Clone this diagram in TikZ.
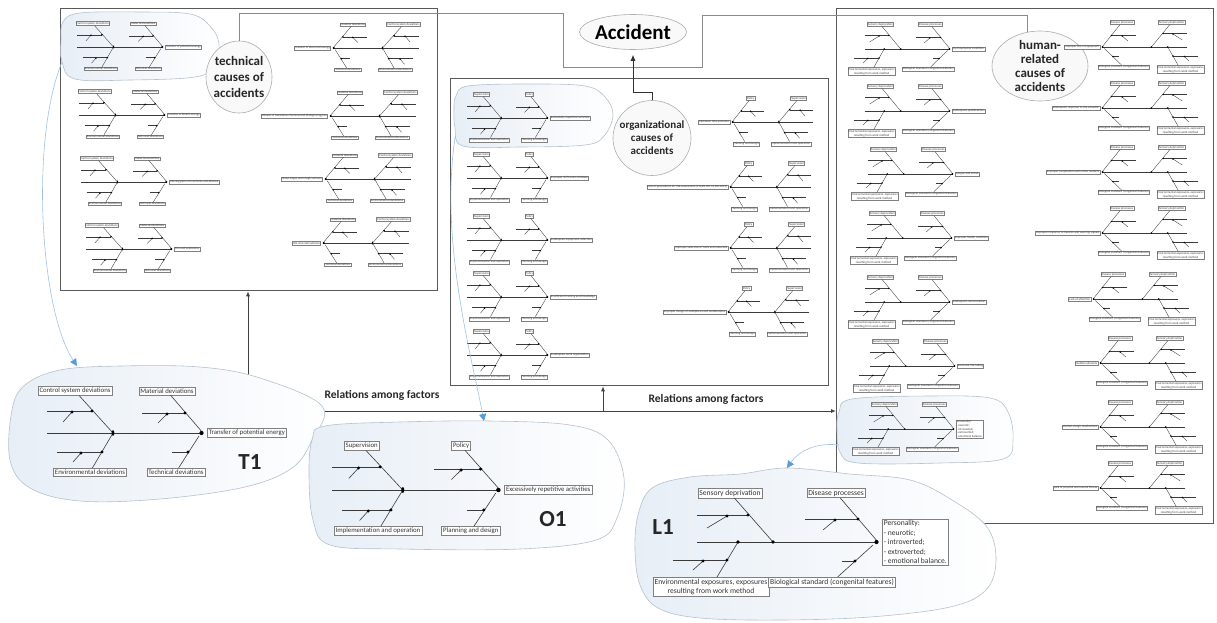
\documentclass[tikz,border=0pt]{standalone}
\usepackage{fontspec}
\setmainfont{Carlito}
\usetikzlibrary{arrows.meta,calc,shapes.geometric}
\newcounter{fc}
\definecolor{panelc}{HTML}{595959}
\definecolor{linec}{HTML}{8A8A8A}
\definecolor{blobl}{HTML}{B4C1CE}
\definecolor{blobf}{HTML}{E7EEF6}
\definecolor{bluel}{HTML}{9DC3E6}
\definecolor{bluea}{HTML}{5B9BD5}
\definecolor{bonec}{HTML}{3A3A3A}
\definecolor{labc}{HTML}{808080}
\tikzset{
 smalllab/.style={draw=labc,line width=0.35pt,fill=white,inner sep=0.7pt,font=\fontsize{3.1}{3.7}\selectfont,text=black!75},
 biglab/.style={draw=labc,line width=0.5pt,fill=white,inner sep=1.5pt,font=\fontsize{6.8}{8.2}\selectfont,text=black!80},
 lab/.style={smalllab},
 bone/.style={draw=bonec,line width=0.35pt},
 sm/.style={lab/.style={smalllab},bone/.style={draw=bonec,line width=0.35pt}},
 panel/.style={draw=panelc,line width=1.3pt,fill=white,anchor=north west,inner sep=0pt},
 blob/.style={draw=blobl,line width=0.6pt,left color=blobf,right color=white},
 circ/.style={ellipse,draw=gray!65,line width=0.6pt,fill=gray!5,inner sep=0pt},
 ctext/.style={font=\bfseries,align=center,text=black!85},
 conn/.style={draw=linec,line width=0.7pt},
 rel/.style={draw=black!75,line width=0.9pt,-{Latex[length=5pt,width=4pt]}},
 bluec/.style={draw=bluel,line width=0.6pt,-{Triangle[length=7pt,width=7pt,color=bluea]}},
 tag/.style={font=\fontsize{23}{26}\selectfont\bfseries,text=black!85},
 reltext/.style={font=\fontsize{11.5}{13}\selectfont\bfseries,text=black!85}
}
% technical / organizational fishbone (head at origin, spine to the left)
\newcommand{\fishT}[9]{%
\stepcounter{fc}%
\begin{scope}[shift={#1},#2]
 \coordinate (f\thefc j) at (-90,0);
 \coordinate (f\thefc h) at (0,0);
 \coordinate (f\thefc e) at (-4,3);
 \draw[bone] (-156,0) -- (f\thefc h);
 \node[lab,anchor=#3,#9] (f\thefc hd) at (4,0) {#4};
 \node[lab] (f\thefc tl) at (-128,-42) {#5};
 \node[lab] (f\thefc tr) at (-36,-42) {#6};
 \node[lab] (f\thefc bl) at (-113,39) {#7};
 \node[lab] (f\thefc br) at (-27,39) {#8};
 \draw[bone] (f\thefc tl) -- (f\thefc j);
 \draw[bone] (f\thefc tr) -- (f\thefc h);
 \draw[bone] (f\thefc bl) -- (f\thefc j);
 \draw[bone] (f\thefc br) -- (f\thefc e);
 \draw[bone] (-156,-22) -- (-111,-22);
 \draw[bone] (-140,-11) -- (-131,-21);
 \draw[bone] (-61,-20) -- (-18,-20);
 \draw[bone] (-45,-10) -- (-36,-19);
 \draw[bone] (-146,19) -- (-101,19);
 \draw[bone] (-130,29) -- (-122,20);
 \draw[bone] (-31,19) -- (-15,19);
 \foreach \x/\y in {-111/-22,-131/-21,-18/-20,-36/-19,-101/19,-122/20,-15/19}
   \fill[black] (\x,\y) circle[radius=1.6];
 \fill[black] (f\thefc j) ellipse[x radius=1.4,y radius=2.8];
 \fill[black] (-1.5,0) circle[radius=2.1];
\end{scope}}
% human-related fishbone
\newcommand{\fishH}[9]{%
\stepcounter{fc}%
\begin{scope}[shift={#1},#2]
 \coordinate (f\thefc j) at (-105,0);
 \coordinate (f\thefc k) at (-140,0);
 \coordinate (f\thefc h) at (0,0);
 \coordinate (f\thefc e) at (-5,3);
 \draw[bone] (-181,0) -- (f\thefc h);
 \node[lab,anchor=#3,#9] (f\thefc hd) at (4,0) {#4};
 \node[lab] (f\thefc tl) at (-148,-49) {#5};
 \node[lab] (f\thefc tr) at (-42,-49) {#6};
 \node[lab,align=center] (f\thefc bl) at (-167,45) {#7};
 \node[lab] (f\thefc br) at (-46,40) {#8};
 \draw[bone] (f\thefc tl) -- (f\thefc j);
 \draw[bone] (f\thefc tr) -- (f\thefc h);
 \draw[bone] (f\thefc bl) -- (f\thefc k);
 \draw[bone] (f\thefc br) -- (f\thefc e);
 \draw[bone] (-181,-27) -- (-130,-27);
 \draw[bone] (-171,-14) -- (-151,-26);
 \draw[bone] (-73,-23) -- (-20,-23);
 \draw[bone] (-55,-12) -- (-43,-22);
 \draw[bone] (-205,18) -- (-151,18);
 \draw[bone] (-185,28) -- (-175,19);
 \draw[bone] (-36,19) -- (-23,19);
 \foreach \x/\y in {-130/-27,-151/-26,-20/-23,-43/-22,-151/18,-175/19,-23/19}
   \fill[black] (\x,\y) circle[radius=1.6];
 \fill[black] (f\thefc j) circle[radius=1.8];
 \fill[black] (f\thefc k) circle[radius=1.8];
 \fill[black] (-1.5,0) circle[radius=2.1];
\end{scope}}

\begin{document}
\begin{tikzpicture}[x=1pt,y=-1pt]
\useasboundingbox (0,0) rectangle (1217,622);

% ---------- panels ----------
\node[panel,minimum width=377,minimum height=282] (tech) at (60,8) {};
\node[panel,minimum width=378,minimum height=307] (org) at (450,78) {};
\node[panel,minimum width=377,minimum height=515] (hum) at (836,8) {};

% highlight blobs inside panels
\draw[blob] plot[smooth cycle,tension=0.6] coordinates {(63,22) (80,13) (140,12) (190,14) (210,26) (219,44) (214,66) (195,77) (130,80) (75,79) (62,62) (61,40)};
\draw[blob] plot[smooth cycle,tension=0.6] coordinates {(456,96) (468,86) (530,84) (585,86) (605,97) (613,115) (604,136) (585,145) (520,147) (463,146) (455,128) (454,108)};
\draw[blob] plot[smooth cycle,tension=0.6] coordinates {(839,412) (852,399) (930,396) (990,398) (1008,412) (1013,440) (1003,459) (940,463) (858,463) (840,452) (837,430)};

% circles and accident
\node[circ,minimum width=66,minimum height=72] (tc) at (239,77) {};
\node[ctext,font=\fontsize{13}{16}\selectfont\bfseries] (tct) at (tc) {technical\\causes of\\accidents};
\node[circ,minimum width=78,minimum height=75] (oc) at (652,138) {};
\node[ctext,font=\fontsize{11}{13}\selectfont\bfseries] (oct) at (oc) {organizational\\causes of\\accidents};
\node[circ,minimum width=96,minimum height=70] (hc) at (1040,66) {};
\node[ctext,font=\fontsize{13}{14}\selectfont\bfseries] (hct) at (hc) {human-\\related\\causes of\\accidents};
\node[circ,minimum width=102,minimum height=35,font=\fontsize{21}{24}\selectfont\bfseries] (acc) at (633,32) {Accident};

\coordinate (c1) at (563,13);
\coordinate (c2) at (563,67);
\coordinate (c3) at (702,67);
\coordinate (c4) at (702,15);
\draw[conn] (tc.north) |- (c1) -- (c2) -- (c3) -- (c4) -| (hc.110);
\coordinate (ob) at (633,92);
\draw[conn,draw=black!80,-{Latex[length=6pt,width=5pt]},shorten >=5pt] (oc.north) |- (ob) -- (acc.south);

% ---------- relations among factors ----------
\coordinate (rl) at (248,411);
\coordinate (rm) at (603,411);
\draw[rel] (rl) -- (rl |- tech.south);
\draw[rel] (rl) -- (rl -| hum.west);
\draw[rel] (rm) -- (rm |- org.south);
\node[reltext] (rt1) at (382,395) {Relations among factors};
\node[reltext] (rt2) at (706,399) {Relations among factors};

% ---------- technical panel ----------
\fishT{(163,47)}{sm,xscale=.55,yscale=.56}{west}{Transfer of potential energy}{Control system deviations}{Material deviations}{Environmental deviations}{Technical deviations}{}
\fishT{(165,115)}{sm,xscale=.55,yscale=.56}{west}{Transfer of kinetic energy}{Control system deviations}{Material deviations}{Environmental deviations}{Technical deviations}{}
\fishT{(167,182)}{sm,xscale=.55,yscale=.56}{west}{Moving parts of machines and devices}{Control system deviations}{Material deviations}{Environmental deviations}{Technical deviations}{}
\fishT{(172,249)}{sm,xscale=.55,yscale=.56}{west}{Fire and explosions}{Control system deviations}{Material deviations}{Environmental deviations}{Technical deviations}{}
\fishT{(333,48)}{sm,xscale=-.55,yscale=.56}{east}{Transfer of electrical energy}{Control system deviations}{Material deviations}{Environmental deviations}{Technical deviations}{}
\fishT{(330,116)}{sm,xscale=-.55,yscale=.56}{east}{Release of hazardous chemical and biological agents}{Control system deviations}{Material deviations}{Environmental deviations}{Technical deviations}{}
\fishT{(325,179)}{sm,xscale=-.55,yscale=.56}{east}{Sharp edges and rough surfaces}{Control system deviations}{Material deviations}{Environmental deviations}{Technical deviations}{}
\fishT{(323,243)}{sm,xscale=-.55,yscale=.56}{east}{Hot and cold surfaces}{Control system deviations}{Material deviations}{Environmental deviations}{Technical deviations}{}

% ---------- organizational panel ----------
\fishT{(548,118)}{sm,xscale=.52,yscale=.56}{west}{Excessively repetitive activities}{Supervision}{Policy}{Implementation and operation}{Planning and design}{}
\fishT{(548,178)}{sm,xscale=.52,yscale=.56}{west}{Improper shift work schedule}{Supervision}{Policy}{Implementation and operation}{Planning and design}{}
\fishT{(548,240)}{sm,xscale=.52,yscale=.56}{west}{Inadequate equipment selection}{Supervision}{Policy}{Implementation and operation}{Planning and design}{}
\fishT{(548,297)}{sm,xscale=.52,yscale=.56}{west}{Insufficient training and knowledge}{Supervision}{Policy}{Implementation and operation}{Planning and design}{}
\fishT{(548,355)}{sm,xscale=.52,yscale=.56}{west}{Inadequate work organization}{Supervision}{Policy}{Implementation and operation}{Planning and design}{}
\fishT{(732,122)}{sm,xscale=-.52,yscale=.56}{east}{Excessive time pressure}{Supervision}{Policy}{Implementation and operation}{Planning and design}{}
\fishT{(730,187)}{sm,xscale=-.52,yscale=.56}{east}{Lack of procedures for risk assessment (PN-EN ISO 12100:2012)}{Supervision}{Policy}{Implementation and operation}{Planning and design}{}
\fishT{(730,248)}{sm,xscale=-.52,yscale=.56}{east}{Improper selection of tools and materials}{Supervision}{Policy}{Implementation and operation}{Planning and design}{}
\fishT{(728,312)}{sm,xscale=-.52,yscale=.56}{east}{Improper design of workplaces and workstations}{Supervision}{Policy}{Implementation and operation}{Planning and design}{}

% ---------- human panel ----------
\fishH{(950,49)}{sm,xscale=.47,yscale=.5}{west}{Psychophysical condition}{Sensory deprivation}{Disease processes}{Environmental exposures, exposures\\resulting from work method}{Biological standard (congenital features)}{}
\fishH{(950,111)}{sm,xscale=.47,yscale=.5}{west}{Inadequate qualifications}{Sensory deprivation}{Disease processes}{Environmental exposures, exposures\\resulting from work method}{Biological standard (congenital features)}{}
\fishH{(953,174)}{sm,xscale=.47,yscale=.5}{west}{Fatigue and stress}{Sensory deprivation}{Disease processes}{Environmental exposures, exposures\\resulting from work method}{Biological standard (congenital features)}{}
\fishH{(952,238)}{sm,xscale=.47,yscale=.5}{west}{Improper health condition}{Sensory deprivation}{Disease processes}{Environmental exposures, exposures\\resulting from work method}{Biological standard (congenital features)}{}
\fishH{(950,302)}{sm,xscale=.47,yscale=.5}{west}{Inadequate concentration}{Sensory deprivation}{Disease processes}{Environmental exposures, exposures\\resulting from work method}{Biological standard (congenital features)}{}
\fishH{(955,366)}{sm,xscale=.47,yscale=.5}{west}{Excessive risk taking}{Sensory deprivation}{Disease processes}{Environmental exposures, exposures\\resulting from work method}{Biological standard (congenital features)}{}
\fishH{(954,429)}{sm,xscale=.47,yscale=.5}{west}{Personality:\\- neurotic;\\- introverted;\\- extroverted;\\- emotional balance.}{Sensory deprivation}{Disease processes}{Environmental exposures, exposures\\resulting from work method}{Biological standard (congenital features)}{align=left}
\fishH{(1102,47)}{sm,xscale=-.47,yscale=.5}{east}{Improper use of equipment}{Sensory deprivation}{Disease processes}{Environmental exposures, exposures\\resulting from work method}{Biological standard (congenital features)}{}
\fishH{(1102,108)}{sm,xscale=-.47,yscale=.5}{east}{Inadequate response to the situation}{Sensory deprivation}{Disease processes}{Environmental exposures, exposures\\resulting from work method}{Biological standard (congenital features)}{}
\fishH{(1102,172)}{sm,xscale=-.47,yscale=.5}{east}{Improper cooperation with other workers}{Sensory deprivation}{Disease processes}{Environmental exposures, exposures\\resulting from work method}{Biological standard (congenital features)}{}
\fishH{(1102,233)}{sm,xscale=-.47,yscale=.5}{east}{Improper response to hazards and warning signals}{Sensory deprivation}{Disease processes}{Environmental exposures, exposures\\resulting from work method}{Biological standard (congenital features)}{}
\fishH{(1093,299)}{sm,xscale=-.47,yscale=.5}{east}{Lack of attention}{Sensory deprivation}{Disease processes}{Environmental exposures, exposures\\resulting from work method}{Biological standard (congenital features)}{}
\fishH{(1100,363)}{sm,xscale=-.47,yscale=.5}{east}{Sudden ailments}{Sensory deprivation}{Disease processes}{Environmental exposures, exposures\\resulting from work method}{Biological standard (congenital features)}{}
\fishH{(1100,427)}{sm,xscale=-.47,yscale=.5}{east}{Alcohol, drugs, medications}{Sensory deprivation}{Disease processes}{Environmental exposures, exposures\\resulting from work method}{Biological standard (congenital features)}{}
\fishH{(1100,488)}{sm,xscale=-.47,yscale=.5}{east}{Lack of physical and mental fitness}{Sensory deprivation}{Disease processes}{Environmental exposures, exposures\\resulting from work method}{Biological standard (congenital features)}{}

% ---------- enlarged callouts ----------
\draw[blob] plot[smooth cycle,tension=0.6] coordinates {(12,410) (25,385) (60,370) (120,366) (200,367) (260,378) (322,406) (312,440) (292,468) (245,487) (160,499) (80,501) (30,488) (10,460)};
\draw[blob] plot[smooth cycle,tension=0.6] coordinates {(312,440) (325,426) (400,422) (490,421) (570,425) (608,440) (624,478) (617,518) (596,540) (520,549) (400,549) (330,545) (313,520) (309,475)};
\draw[blob] plot[smooth cycle,tension=0.6] coordinates {(638,515) (652,488) (690,477) (740,474) (787,468) (850,474) (910,480) (952,500) (987,527) (996,560) (986,590) (950,607) (870,617) (780,620) (700,618) (658,608) (640,585) (635,550)};

\fishT{(203,433)}{lab/.style={biglab},bone/.style={draw=bonec,line width=0.6pt}}{west}{Transfer of potential energy}{Control system deviations}{Material deviations}{Environmental deviations}{Technical deviations}{}
\fishT{(500,490)}{xscale=1.08,yscale=1.05,lab/.style={biglab},bone/.style={draw=bonec,line width=0.6pt}}{west}{Excessively repetitive activities}{Supervision}{Policy}{Implementation and operation}{Planning and design}{}
\fishH{(878,542)}{lab/.style={biglab,font=\fontsize{7.6}{9.4}\selectfont},bone/.style={draw=bonec,line width=0.6pt}}{west}{Personality:\\- neurotic;\\- introverted;\\- extroverted;\\- emotional balance.}{Sensory deprivation}{Disease processes}{Environmental exposures, exposures\\resulting from work method}{Biological standard (congenital features)}{align=left}

\node[tag] (t1) at (250,462) {T1};
\node[tag] (o1) at (553,519) {O1};
\node[tag] (l1) at (663,527) {L1};

% ---------- blue callout connectors ----------
\coordinate (b1s) at (62,62);
\coordinate (b1e) at (77,366);
\coordinate (b2s) at (455,138);
\coordinate (b2e) at (484,421);
\coordinate (b3s) at (839,445);
\coordinate (b3e) at (787,468);
\draw[bluec] (b1s) .. controls (30,140) and (40,310) .. (b1e);
\draw[bluec] (b2s) .. controls (440,240) and (470,350) .. (b2e);
\draw[bluec] (b3s) .. controls (815,442) and (798,452) .. (b3e);
\end{tikzpicture}
\end{document}
